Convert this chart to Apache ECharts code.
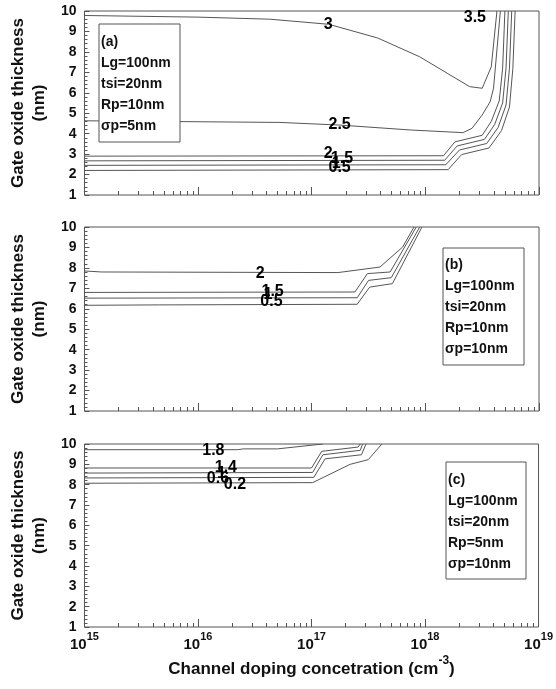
<!DOCTYPE html>
<html>
<head>
<meta charset="utf-8">
<script src="https://cdn.jsdelivr.net/npm/echarts@6/dist/echarts.min.js"></script>
<style>
html,body{margin:0;padding:0;background:#fff;}
#chart{width:556px;height:689px;}
</style>
</head>
<body>
<div id="chart"></div>
<script>
// x = log10 of channel doping (cm-3), y = gate oxide thickness (nm)
const decades = [15, 16, 17, 18, 19];

// panel (a) contours
const a30 = [[15,9.78],[16,9.7],[16.63,9.6],[17.15,9.35],[17.58,8.68],[17.95,7.76],[18.39,6.3],[18.5,6.22],[18.58,7.27],[18.63,10]];
const a25 = [[15,4.63],[16.72,4.55],[17.25,4.42],[17.87,4.18],[18.33,4.05],[18.41,4.26],[18.5,4.91],[18.57,5.56],[18.6,6.23],[18.66,10]];
const a20 = [[15,2.9],[18.16,2.92],[18.26,3.6],[18.5,3.92],[18.58,4.6],[18.65,5.6],[18.68,7.2],[18.7,10]];
const a15 = [[15,2.67],[18.17,2.7],[18.28,3.4],[18.52,3.72],[18.61,4.45],[18.68,5.5],[18.71,7.2],[18.73,10]];
const a10 = [[15,2.45],[18.18,2.48],[18.3,3.2],[18.54,3.52],[18.64,4.3],[18.71,5.4],[18.74,7.2],[18.76,10]];
const a05 = [[15,2.2],[18.2,2.24],[18.32,2.98],[18.56,3.3],[18.67,4.15],[18.74,5.3],[18.77,7.2],[18.79,10]];
const aLabels = [['3',17.15,9.32],['3.5',18.44,9.64],['2.5',17.25,4.42],['2',17.15,3.02],['1.5',17.27,2.78],['1',17.22,2.52],['0.5',17.25,2.3]];

// panel (b) contours
const b20 = [[15,7.85],[15.15,7.8],[17.23,7.77],[17.6,8.04],[17.8,9.02],[17.9,10]];
const b15 = [[15,6.8],[17.38,6.82],[17.49,7.72],[17.69,7.8],[17.92,10]];
const b10 = [[15,6.52],[17.4,6.54],[17.5,7.39],[17.7,7.52],[17.95,10]];
const b05 = [[15,6.17],[15.65,6.19],[17.4,6.22],[17.51,7.06],[17.71,7.23],[17.97,10]];
const bLabels = [['2',16.55,7.72],['1.5',16.66,6.82],['1',16.62,6.66],['0.5',16.65,6.33]];

// panel (c) contours
const c18 = [[15,9.72],[16.35,9.72],[16.4,9.76],[16.7,9.76],[17.1,10]];
const c14 = [[15,8.82],[17.0,8.82],[17.09,9.64],[17.41,9.85],[17.43,10]];
const c10 = [[15,8.57],[17.01,8.6],[17.1,9.47],[17.43,9.69],[17.45,10]];
const c06 = [[15,8.33],[17.02,8.36],[17.12,9.27],[17.44,9.47],[17.48,10]];
const c02 = [[15,8.07],[17.01,8.1],[17.34,9.0],[17.5,9.23],[17.62,10]];
const cLabels = [['1.8',16.14,9.67],['1.4',16.25,8.82],['1',16.21,8.53],['0.6',16.18,8.27],['0.2',16.33,7.96]];

const boxTexts = [
  '(a)\nLg=100nm\ntsi=20nm\nRp=10nm\nσp=5nm',
  '(b)\nLg=100nm\ntsi=20nm\nRp=10nm\nσp=10nm',
  '(c)\nLg=100nm\ntsi=20nm\nRp=5nm\nσp=10nm'
];

// minor log ticks 2..9 in every decade
const minorTicks = [];
decades.slice(0, -1).forEach(d => {
  for (let k = 2; k <= 9; k++) minorTicks.push(d + Math.log10(k));
});

const font = "'Liberation Sans', Arial, sans-serif";
const narrow = "'Liberation Sans Narrow', 'Liberation Sans', Arial, sans-serif";
const frame = '#555';

const grids = [
  {left: 84, top: 11, width: 455, height: 184},
  {left: 84, top: 227, width: 455, height: 184},
  {left: 84, top: 444, width: 455, height: 183}
];
const panels = [
  {lines: [a30, a25, a20, a15, a10, a05], labels: aLabels},
  {lines: [b20, b15, b10, b05], labels: bLabels},
  {lines: [c18, c14, c10, c06, c02], labels: cLabels}
];

const xAxis = [], yAxis = [], series = [];
grids.forEach((g, i) => {
  const last = i === grids.length - 1;
  xAxis.push({
    type: 'value', gridIndex: i, position: 'bottom', min: 15, max: 19, interval: 1,
    axisLine: {show: false},
    axisTick: {inside: true, length: 8, lineStyle: {color: frame}},
    splitLine: {show: false},
    axisLabel: {
      show: last, margin: 4, color: '#111',
      formatter: v => '{b|10}{s|' + v + '}',
      rich: {
        b: {fontSize: 15, fontWeight: 'bold', fontFamily: font, color: '#111', padding: [6, 0, 0, 0]},
        s: {fontSize: 11, fontWeight: 'bold', fontFamily: font, color: '#111', verticalAlign: 'top'}
      }
    },
    name: last ? '{n|Channel doping concetration (cm}{s|-3}{n|)}' : '',
    nameLocation: 'middle', nameGap: 28,
    nameTextStyle: {
      rich: {
        n: {fontSize: 17, fontWeight: 'bold', fontFamily: font, color: '#111', padding: [6, 0, 0, 0]},
        s: {fontSize: 12, fontWeight: 'bold', fontFamily: font, color: '#111', verticalAlign: 'top'}
      }
    }
  });
  xAxis.push({
    type: 'value', gridIndex: i, position: 'bottom', min: 15, max: 19,
    axisLine: {show: false},
    axisTick: {inside: true, length: 4, customValues: minorTicks, lineStyle: {color: frame}},
    axisLabel: {show: false},
    splitLine: {show: false}
  });
  yAxis.push({
    type: 'value', gridIndex: i, min: 1, max: 10, interval: 1,
    axisLine: {show: false},
    axisTick: {inside: true, length: 5, lineStyle: {color: frame}},
    minorTick: {show: true, splitNumber: 5, length: 3, lineStyle: {color: frame}},
    splitLine: {show: false},
    axisLabel: {fontSize: 14, fontWeight: 'bold', fontFamily: font, color: '#111', margin: 8},
    name: 'Gate oxide thickness\n(nm)',
    nameLocation: 'middle', nameGap: 30,
    nameTextStyle: {fontSize: 17, fontWeight: 'bold', fontFamily: font, color: '#111', lineHeight: 21}
  });
  panels[i].lines.forEach(d => {
    series.push({
      type: 'line', xAxisIndex: i * 2, yAxisIndex: i, data: d,
      showSymbol: false, silent: true,
      lineStyle: {color: '#555', width: 1}
    });
  });
  series.push({
    type: 'scatter', xAxisIndex: i * 2, yAxisIndex: i, symbolSize: 1, silent: true, z: 5,
    itemStyle: {opacity: 1, color: 'rgba(0,0,0,0)'},
    data: panels[i].labels.map(l => ({name: l[0], value: [l[1], l[2]]})),
    label: {
      show: true, position: [0, 0], align: 'center', verticalAlign: 'middle', formatter: '{b}',
      fontSize: 16, fontWeight: 'bold', fontFamily: narrow, color: '#000',
      textBorderWidth: 0, opacity: 1
    }
  });
});

const boxes = [
  {x: 99, y: 24, w: 81, h: 118, tx: 101, ty: 32},
  {x: 443, y: 248, w: 81, h: 117, tx: 445, ty: 255},
  {x: 446, y: 462, w: 80, h: 117, tx: 448, ty: 470}
];
const graphic = [];
boxes.forEach((b, i) => {
  graphic.push({
    type: 'rect', z: 10, shape: {x: b.x, y: b.y, width: b.w, height: b.h},
    style: {fill: '#fff', stroke: frame, lineWidth: 1}
  });
  graphic.push({
    type: 'text', z: 11, x: b.tx, y: b.ty,
    style: {text: boxTexts[i], font: "bold 14px " + font, fill: '#111', lineHeight: 21}
  });
});

const chart = echarts.init(document.getElementById('chart'));
chart.setOption({
  animation: false,
  grid: grids.map(g => Object.assign({show: true, borderColor: frame, borderWidth: 1}, g)),
  xAxis: xAxis,
  yAxis: yAxis,
  series: series,
  graphic: graphic
});
</script>
</body>
</html>
